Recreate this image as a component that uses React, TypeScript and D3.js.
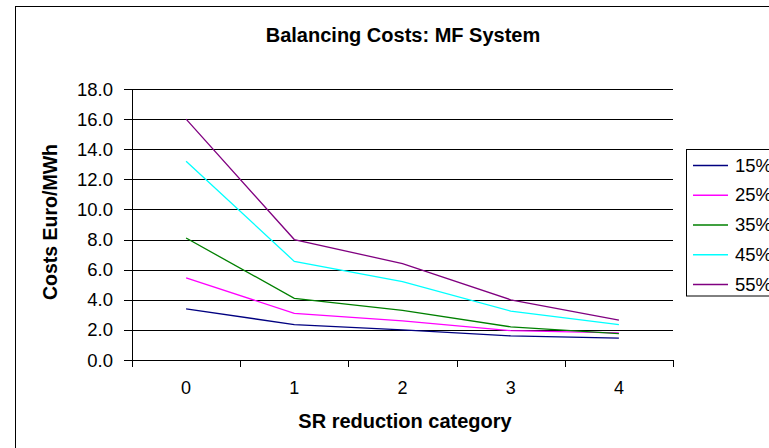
import React from "react";
import * as d3 from "d3";

const categories = ["0", "1", "2", "3", "4"];
const seriesNames = ["15%", "25%", "35%", "45%", "55%"];
const seriesColors = ["#000080", "#FF00FF", "#008000", "#00FFFF", "#800080"];
const s15 = [3.4, 2.35, 2.0, 1.6, 1.45];
const s25 = [5.45, 3.1, 2.6, 1.95, 1.8];
const s35 = [8.1, 4.1, 3.3, 2.2, 1.75];
const s45 = [13.2, 6.55, 5.2, 3.25, 2.35];
const s55 = [16.0, 8.0, 6.4, 4.0, 2.65];
const seriesValues = [s15, s25, s35, s45, s55];
const yTicks = [0, 2, 4, 6, 8, 10, 12, 14, 16, 18];

export default function App() {
  const W = 769, H = 448;
  const left = 132, right = 673, top = 89, bottom = 360;
  const x = d3.scaleBand<string>().domain(categories).range([left, right]);
  const y = d3.scaleLinear().domain([0, 18]).range([bottom, top]);
  const line = d3
    .line<number>()
    .x((_, i) => (x(categories[i]) as number) + x.bandwidth() / 2)
    .y((d) => y(d));
  const font = "'Liberation Sans', Arial, sans-serif";
  const boundaries = categories.map((c) => x(c) as number).concat([right]);
  return (
    <svg width={W} height={H} style={{ position: "absolute", left: 0, top: 0 }} fontFamily={font}>
      <rect x={0} y={0} width={W} height={H} fill="#fff" />
      <rect x={15.5} y={6.5} width={900} height={600} fill="#fff" stroke="#000" strokeWidth={1} />
      <text x={403} y={41.5} textAnchor="middle" fontSize={20} fontWeight="bold">
        Balancing Costs: MF System
      </text>
      {yTicks.map((t) => (
        <g key={t}>
          <line x1={124} x2={right} y1={Math.round(y(t)) + 0.5} y2={Math.round(y(t)) + 0.5} stroke="#000" />
          <text x={113} y={y(t) + 6.6} textAnchor="end" fontSize={18.5}>
            {t.toFixed(1)}
          </text>
        </g>
      ))}
      <line x1={left + 0.5} x2={left + 0.5} y1={y(18)} y2={bottom + 7} stroke="#000" />
      {boundaries.map((b, i) => (
        <line key={i} x1={Math.round(b) + 0.5} x2={Math.round(b) + 0.5} y1={bottom} y2={bottom + 7} stroke="#000" />
      ))}
      {categories.map((c) => (
        <text key={c} x={(x(c) as number) + x.bandwidth() / 2} y={394} textAnchor="middle" fontSize={18}>
          {c}
        </text>
      ))}
      <text x={405} y={428} textAnchor="middle" fontSize={20} fontWeight="bold">
        SR reduction category
      </text>
      <text
        transform={`translate(57, 222) rotate(-90)`}
        textAnchor="middle"
        fontSize={19.5}
        fontWeight="bold"
      >
        Costs Euro/MWh
      </text>
      {seriesValues.map((vals, i) => (
        <path key={i} d={line(vals) as string} fill="none" stroke={seriesColors[i]} strokeWidth={1.3} />
      ))}
      <rect x={686.5} y={149.5} width={200} height={146.5} fill="#fff" stroke="#000" />
      {seriesNames.map((n, i) => {
        const yy = 165 + i * 29.75;
        return (
          <g key={n}>
            <line x1={693} x2={728} y1={yy + 0.5} y2={yy + 0.5} stroke={seriesColors[i]} strokeWidth={1.3} />
            <text x={735} y={yy + 6.7} fontSize={18.5}>
              {n}
            </text>
          </g>
        );
      })}
    </svg>
  );
}
